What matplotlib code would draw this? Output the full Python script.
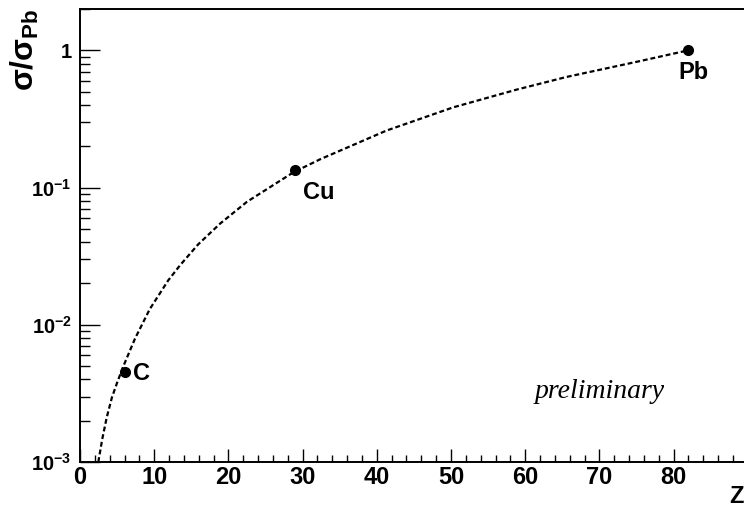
import numpy as np
import matplotlib
matplotlib.use("Agg")
import matplotlib.pyplot as plt
from matplotlib.ticker import FixedLocator, FuncFormatter, LogLocator, MultipleLocator, NullFormatter

plt.rcParams.update({"font.family": ["Liberation Sans", "DejaVu Sans"], "font.weight": "bold",
                     "mathtext.fontset": "custom", "mathtext.rm": "Liberation Sans:bold",
                     "mathtext.bf": "Liberation Sans:bold", "mathtext.it": "Liberation Sans:bold",
                     "mathtext.default": "bf"})

# measured points
targets = ["C", "Cu", "Pb"]
target_z = [6, 29, 82]
ratio = [4.5e-3, 0.134, 1.0]

# dashed guide curve
curve_z = [2.47, 3.0, 3.6, 4.3, 5.0, 5.75, 7.4, 9.4, 11.9, 13.5, 15.9, 18.9, 22.5,
           28.75, 32.4, 41.3, 50.3, 58.9, 65.6, 74.6, 82.0]
curve_y = [1.0e-3, 1.47e-3, 2.11e-3, 2.95e-3, 3.78e-3, 4.85e-3, 7.9e-3, 0.0130, 0.0211, 0.0272,
           0.0384, 0.0547, 0.0787, 0.129, 0.161, 0.260, 0.384, 0.518, 0.640, 0.815, 1.0]

y_major = [1e-3, 1e-2, 1e-1, 1.0]
y_labels = {1e-3: r"$10^{-3}$", 1e-2: r"$10^{-2}$", 1e-1: r"$10^{-1}$", 1.0: "1"}

fig = plt.figure(figsize=(7.44, 5.09), dpi=100)
ax = fig.add_axes([80 / 744, 47 / 509, 664.8 / 744, 453 / 509])

ax.plot(curve_z, curve_y, color="black", lw=1.6, ls=(0, (2.2, 1.3)), zorder=2)
ax.plot(target_z, ratio, "o", color="black", ms=7, zorder=3)

ax.set_yscale("log")
ax.set_xlim(0, 89.6)
ax.set_ylim(1e-3, 2.0)

# labels next to points
ax.annotate("Pb", (target_z[2], ratio[2]), xytext=(5, -22), textcoords="offset pixels",
            ha="center", va="center", fontsize=17, fontweight="bold")
ax.annotate("Cu", (target_z[1], ratio[1]), xytext=(24, -22), textcoords="offset pixels",
            ha="center", va="center", fontsize=17, fontweight="bold")
ax.annotate("C", (target_z[0], ratio[0]), xytext=(17, -1), textcoords="offset pixels",
            ha="center", va="center", fontsize=17, fontweight="bold")

fig.text(600 / 744, 1 - 392 / 509, "preliminary", ha="center", va="center",
         fontsize=20, fontstyle="italic", fontweight="normal", family="Liberation Serif")

# ROOT-like axes: inward ticks, bottom/left only
ax.xaxis.set_major_locator(MultipleLocator(10))
ax.xaxis.set_minor_locator(MultipleLocator(2))
ax.yaxis.set_major_locator(FixedLocator(y_major))
ax.yaxis.set_minor_locator(LogLocator(base=10, subs=np.arange(2, 10)))
ax.yaxis.set_major_formatter(FuncFormatter(lambda v, p: y_labels.get(v, "")))
ax.yaxis.set_minor_formatter(NullFormatter())
ax.tick_params(axis="x", which="major", direction="in", length=9.5, width=1, labelsize=17, pad=3)
ax.tick_params(axis="x", which="minor", direction="in", length=5, width=1)
ax.tick_params(axis="y", which="major", direction="in", length=14.5, width=1, labelsize=14.5, pad=6)
ax.tick_params(axis="y", which="minor", direction="in", length=7, width=1)
for lab in ax.get_xticklabels() + ax.get_yticklabels():
    lab.set_fontweight("bold")
for s in ax.spines.values():
    s.set_linewidth(1.4)

fig.text(736 / 744, 1 - 485 / 509, "Z", ha="center", va="top", fontsize=17, fontweight="bold")
fig.text(25 / 744, 1 - 8 / 509, r"$\sigma/\sigma_{Pb}$", rotation=90, ha="center", va="top",
         fontsize=23)

fig.savefig("out.png", dpi=100)
